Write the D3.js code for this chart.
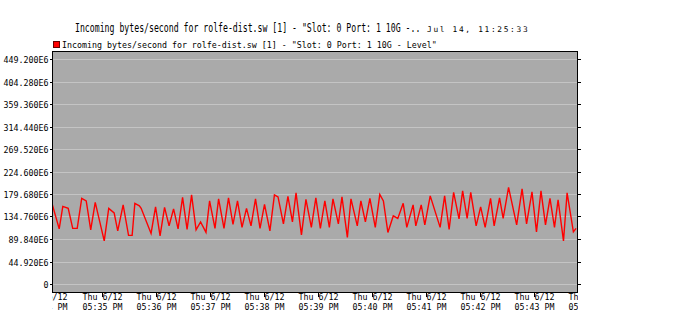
<!DOCTYPE html>
<head>
  <meta charset="utf-8">
  <title>Incoming bytes/second</title>
  <style>
  body { margin: 0; background: #fff; }
  svg { display: block; }
  text { font-family: "DejaVu Sans Mono", "Liberation Mono", monospace; fill: #000; }
  .ylab, .xlab { font-size: 8.3px; }
  .grid line { stroke: #c4c4c4; stroke-width: 1; shape-rendering: crispEdges; }
  .tick-mark { stroke: #000; shape-rendering: crispEdges; }
  #series { fill: none; stroke: #ff0000; stroke-width: 1.4; }
  </style>
</head>
<body>
<script src="https://cdn.jsdelivr.net/npm/d3@7"></script>
<script>
  // chart data (values in millions of bytes/second)
  const DAY = "2014-06-12";
  const times = [
    "17:34:05","17:34:13","17:34:17","17:34:23","17:34:28","17:34:33","17:34:38","17:34:43",
    "17:34:48","17:34:53","17:35:03","17:35:08","17:35:14","17:35:18","17:35:24","17:35:30",
    "17:35:34","17:35:37","17:35:42","17:35:44","17:35:55","17:36:00","17:36:05","17:36:10",
    "17:36:15","17:36:20","17:36:25","17:36:30","17:36:35","17:36:40","17:36:45","17:36:50",
    "17:36:56","17:37:00","17:37:06","17:37:10","17:37:16","17:37:21","17:37:26","17:37:31",
    "17:37:36","17:37:41","17:37:46","17:37:51","17:37:56","17:38:01","17:38:07","17:38:12",
    "17:38:16","17:38:22","17:38:27","17:38:32","17:38:36","17:38:42","17:38:47","17:38:53",
    "17:38:58","17:39:03","17:39:08","17:39:13","17:39:17","17:39:23","17:39:27","17:39:33",
    "17:39:37","17:39:44","17:39:48","17:39:53","17:39:58","17:40:04","17:40:09","17:40:13",
    "17:40:18","17:40:24","17:40:29","17:40:35","17:40:39","17:40:46","17:40:49","17:40:55",
    "17:40:59","17:41:05","17:41:16","17:41:21","17:41:26","17:41:31","17:41:37","17:41:41",
    "17:41:46","17:41:50","17:41:56","17:42:01","17:42:06","17:42:12","17:42:16","17:42:22",
    "17:42:26","17:42:32","17:42:41","17:42:47","17:42:52","17:42:58","17:43:03","17:43:08",
    "17:43:13","17:43:18","17:43:23","17:43:27","17:43:33","17:43:37","17:43:44","17:43:47"
  ];
  const values = [
    161,110,155,151,111,111,171,166,
    108,163,86,151,142,106,158,97,
    97,161,156,151,101,154,96,153,
    116,150,110,173,109,178,108,124,
    103,166,111,170,111,172,119,166,
    113,151,116,170,111,159,106,178,
    174,120,175,124,182,98,169,113,
    172,111,166,113,170,120,174,93,
    170,116,166,124,171,113,179,166,
    103,136,131,161,113,158,116,158,
    118,176,113,176,109,183,130,186,
    131,183,116,154,113,171,116,172,
    131,193,118,190,120,184,104,186,
    118,171,113,168,86,182,104,111
  ];
  const yTicks = [0, 44.92, 89.84, 134.76, 179.68, 224.6, 269.52, 314.44, 359.36, 404.28, 449.2];
  const yTickLabels = ["0","44.920E6","89.840E6","134.760E6","179.680E6","224.600E6",
                       "269.520E6","314.440E6","359.360E6","404.280E6","449.200E6"];
  const xTicks = ["17:34","17:35","17:36","17:37","17:38","17:39","17:40","17:41","17:42","17:43","17:44"];
  const xTickDay = "Thu 6/12";
  const xTickLabels = ["05:34 PM","05:35 PM","05:36 PM","05:37 PM","05:38 PM","05:39 PM",
                       "05:40 PM","05:41 PM","05:42 PM","05:43 PM","05:44 PM"];
  const xDomain = ["17:34:05", "17:43:48"];
  const title = "Incoming bytes/second for rolfe-dist.sw [1] - \"Slot: 0 Port: 1 10G -..";
  const stamp = "Jul 14, 11:25:33";
  const legendText = "Incoming bytes/second for rolfe-dist.sw [1] - \"Slot: 0 Port: 1 10G - Level\"";

  const width = 686, height = 333;
  const plot = { left: 52, right: 577, top: 51, bottom: 292 };

  const parse = t => new Date(`${DAY}T${t.length === 5 ? t + ":00" : t}`);
  const data = times.map((t, i) => ({ t: parse(t), v: values[i] * 1e6 }));

  const xScale = d3.scaleTime()
    .domain(xDomain.map(parse))
    .range([plot.left, plot.right]);
  const yScale = d3.scaleLinear()
    .domain([0, 449.2e6])
    .range([284, 59]);

  const svg = d3.select("body").append("svg")
    .attr("width", width)
    .attr("height", height);

  svg.append("defs").append("clipPath")
    .attr("id", "plotClip")
    .append("rect")
    .attr("x", plot.left).attr("y", plot.top)
    .attr("width", plot.right - plot.left).attr("height", plot.bottom - plot.top);
  svg.append("defs").append("clipPath")
    .attr("id", "xlabClip")
    .append("rect")
    .attr("x", plot.left).attr("y", plot.bottom)
    .attr("width", plot.right - plot.left + 1).attr("height", 40);

  // plot background
  svg.append("rect")
    .attr("x", plot.left).attr("y", plot.top)
    .attr("width", plot.right - plot.left).attr("height", plot.bottom - plot.top)
    .attr("fill", "#aaaaaa");

  // grid
  svg.append("g").attr("class", "grid")
    .selectAll("line")
    .data(yTicks)
    .enter().append("line")
    .attr("x1", plot.left).attr("x2", plot.right)
    .attr("y1", d => Math.round(yScale(d * 1e6)) + 0.5)
    .attr("y2", d => Math.round(yScale(d * 1e6)) + 0.5);

  // series
  let line = d3.line()
    .x(d => xScale(d.t))
    .y(d => yScale(d.v));
  svg.append("path")
    .attr("id", "series")
    .attr("clip-path", "url(#plotClip)")
    .attr("d", line(data));

  // frame
  svg.append("rect")
    .attr("x", plot.left + 0.5).attr("y", plot.top + 0.5)
    .attr("width", plot.right - plot.left).attr("height", plot.bottom - plot.top)
    .attr("fill", "none").attr("stroke", "#000")
    .attr("shape-rendering", "crispEdges");

  // y axis labels + ticks on both sides
  let yAxis = svg.append("g").attr("id", "y-axis");
  yTicks.forEach((d, i) => {
    let y = Math.round(yScale(d * 1e6)) + 0.5;
    yAxis.append("line").attr("class", "tick-mark")
      .attr("x1", plot.left - 2).attr("x2", plot.left).attr("y1", y).attr("y2", y);
    yAxis.append("line").attr("class", "tick-mark")
      .attr("x1", plot.right + 1).attr("x2", plot.right + 4).attr("y1", y).attr("y2", y);
    yAxis.append("text").attr("class", "ylab")
      .attr("x", 48.5).attr("y", y + 3)
      .attr("text-anchor", "end")
      .text(yTickLabels[i]);
  });

  // x axis labels
  let xAxis = svg.append("g").attr("id", "x-axis").attr("clip-path", "url(#xlabClip)");
  xTicks.forEach((t, i) => {
    let x = Math.round(xScale(parse(t))) + 0.5;
    xAxis.append("line").attr("class", "tick-mark")
      .attr("x1", x).attr("x2", x).attr("y1", plot.bottom).attr("y2", plot.bottom + 5);
    xAxis.append("text").attr("class", "xlab")
      .attr("x", x).attr("y", 299.5).attr("text-anchor", "middle").text(xTickDay);
    xAxis.append("text").attr("class", "xlab")
      .attr("x", x).attr("y", 309.5).attr("text-anchor", "middle").text(xTickLabels[i]);
  });

  // title (stretched vertically) + timestamp
  svg.append("g")
    .attr("transform", "translate(75,32) scale(1,1.4)")
    .append("text")
    .attr("font-size", 8.2)
    .text(title);
  svg.append("text")
    .attr("x", 427).attr("y", 32)
    .attr("font-size", 7.8)
    .attr("letter-spacing", 1.7)
    .text(stamp);

  // legend
  svg.append("rect")
    .attr("x", 53.5).attr("y", 41.5).attr("width", 6).attr("height", 6)
    .attr("fill", "#ff0000").attr("stroke", "#600")
    .attr("shape-rendering", "crispEdges");
  svg.append("text")
    .attr("x", 62).attr("y", 47.5)
    .attr("font-size", 8.3)
    .text(legendText);
</script>
</body>
